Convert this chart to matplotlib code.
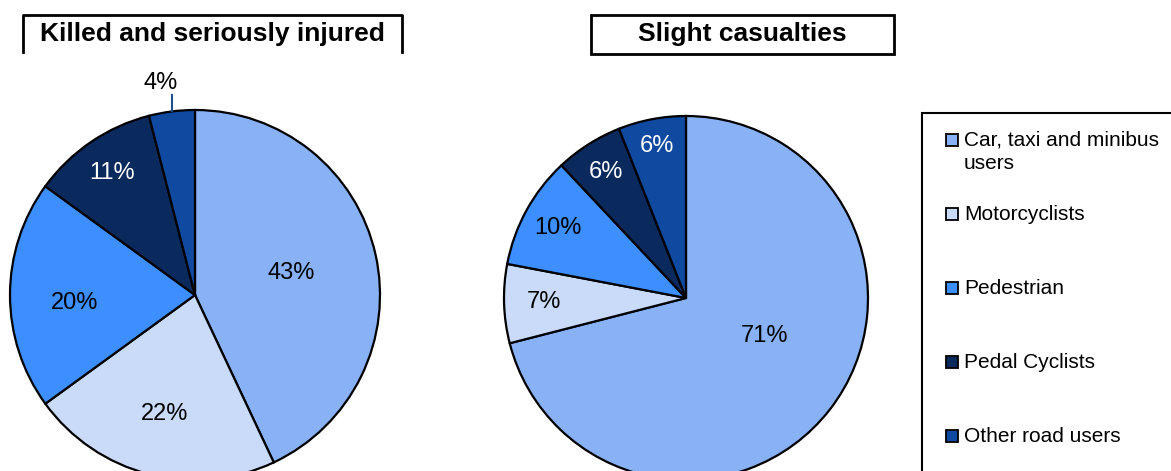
import numpy as np
import matplotlib
matplotlib.use("Agg")
import matplotlib.pyplot as plt
from matplotlib.patches import Rectangle

plt.rcParams['font.family'] = ['Liberation Sans', 'DejaVu Sans']

# casualty shares by road user type (%)
categories = ['Car, taxi and minibus\nusers', 'Motorcyclists', 'Pedestrian',
              'Pedal Cyclists', 'Other road users']
ksi_values = [43, 22, 20, 11, 4]
slight_values = [71, 7, 10, 6, 6]
titles = ['Killed and seriously injured', 'Slight casualties']

colors = ['#88b2f5', '#c9dbf9', '#3d8efe', '#0a2a5e', '#0f4aa0']
text_colors = ['black', 'black', 'black', 'white', 'white']

W, H = 1171, 471
fig = plt.figure(figsize=(W / 100, H / 100), dpi=100)
ax = fig.add_axes([0, 0, 1, 1])


def Y(y):
    # pixel rows are counted from the top
    return H - y


def draw_pie(values, center, radius, dists, nudges):
    cx, cy = center[0], Y(center[1])
    wedges, _ = ax.pie(values, colors=colors, startangle=90, counterclock=False,
                       center=(cx, cy), radius=radius, frame=True,
                       wedgeprops=dict(edgecolor='black', linewidth=1.6))
    for w, v, d, tc, nd in zip(wedges, values, dists, text_colors, nudges):
        ang = np.deg2rad((w.theta1 + w.theta2) / 2)
        if d is None:
            # small slice: label outside with a leader line
            x0 = cx + radius * np.cos(ang)
            y0 = cy + radius * np.sin(ang)
            ax.plot([x0, x0], [y0, y0 + 16], color='#1f4e8c', lw=1.5)
            ax.text(x0 - 11, y0 + 28, f'{v}%', ha='center', va='center',
                    fontsize=17, color='black')
            continue
        x = cx + d * radius * np.cos(ang) + nd[0]
        y = cy + d * radius * np.sin(ang) + nd[1]
        ax.text(x, y, f'{v}%', ha='center', va='center', fontsize=17, color=tc)


draw_pie(ksi_values, (195, 295), 185, [0.535, 0.665, 0.65, 0.80, None],
         [(0, 0), (0, 0), (0, -8), (0, 0), (0, 0)])
draw_pie(slight_values, (686, 298), 182, [0.52, 0.78, 0.80, 0.82, 0.85],
         [(4, 20), (0, 0), (0, 0), (0, 0), (0, 0)])

# title boxes
ax.plot([23, 23, 402, 402], [Y(52), Y(15), Y(15), Y(52)], color='black', lw=2)
ax.text(212, Y(34), titles[0], ha='center', va='center', fontsize=19,
        fontweight='bold')
ax.add_patch(Rectangle((591, Y(53.5)), 303, 38.5, fill=False,
                       edgecolor='black', lw=2))
ax.text(742, Y(34), titles[1], ha='center', va='center', fontsize=19,
        fontweight='bold')

# legend
ax.add_patch(Rectangle((922, -20), 400, Y(113) + 20, fill=False,
                       edgecolor='black', lw=1.5))
for i, (name, col) in enumerate(zip(categories, colors)):
    yc = 139.5 + 74 * i
    ax.add_patch(Rectangle((946, Y(yc) - 6), 12, 12, facecolor=col,
                           edgecolor='black', lw=1.3))
    ax.text(964, Y(yc - 9), name, ha='left', va='top', fontsize=15,
            linespacing=1.3)

ax.set_xlim(0, W)
ax.set_ylim(0, H)
ax.set_aspect('auto')
ax.axis('off')

fig.savefig('out.png', dpi=100)
